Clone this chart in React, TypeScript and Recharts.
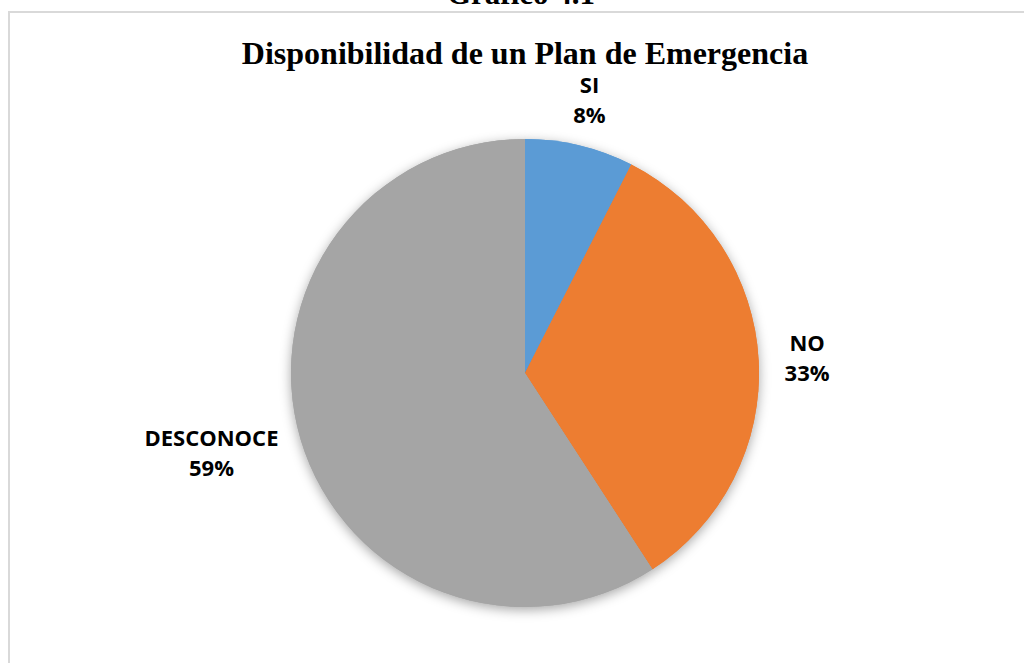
import { PieChart, Pie, Cell } from 'recharts'

// Respuestas de la encuesta
const categories = ['SI', 'NO', 'DESCONOCE']
const counts = [9, 40, 71]

const COLORS = ['#5b9bd5', '#ed7d31', '#a5a5a5']
const LABEL_FONT = '"Open Sans", "Noto Sans", sans-serif'
const LABEL_SIZE = 22
const RAD = Math.PI / 180

const data = categories.map((name, i) => ({ name, value: counts[i] }))

let ctx: CanvasRenderingContext2D | null = null
const measure = (s: string) => {
  if (!ctx) ctx = document.createElement('canvas').getContext('2d')
  if (!ctx) return s.length * LABEL_SIZE * 0.65
  ctx.font = `bold ${LABEL_SIZE}px ${LABEL_FONT}`
  return ctx.measureText(s).width
}

const renderLabel = (props: any) => {
  const { cx, cy, midAngle, outerRadius, percent, name } = props
  const pct = `${Math.round(percent * 100)}%`
  const cos = Math.cos(-midAngle * RAD)
  const sin = Math.sin(-midAngle * RAD)
  // anchor just outside the slice, then push the label box outward
  const r = outerRadius + 22
  const w = Math.max(measure(name), measure(pct)) + 8
  const h = 50
  const x = cx + r * cos + (cos * w) / 2
  const y = cy + r * sin + (sin * h) / 2
  return (
    <g>
      <text x={x} y={y - 15 + 8} textAnchor="middle" fill="#000" fontFamily={LABEL_FONT} fontSize={LABEL_SIZE} fontWeight="bold">
        {name}
      </text>
      <text x={x} y={y + 15 + 8} textAnchor="middle" fill="#000" fontFamily={LABEL_FONT} fontSize={LABEL_SIZE} fontWeight="bold">
        {pct}
      </text>
    </g>
  )
}

const serif = '"Liberation Serif", "Times New Roman", serif'

export default function App() {
  return (
    <div style={{ position: 'absolute', left: 0, top: 0, width: 1024, height: 663, overflow: 'hidden', background: '#fff' }}>
      <style>{`.pie-shadow path { filter: drop-shadow(0px 3px 6px rgba(0,0,0,0.35)); }`}</style>
      {/* marco del gráfico */}
      <div style={{ position: 'absolute', left: 8, top: 11, width: 1100, height: 700, border: '2px solid #d9d9d9', boxSizing: 'border-box' }} />
      <div style={{ position: 'absolute', left: 0, width: 1042, top: -22, textAlign: 'center', fontFamily: serif, fontWeight: 'bold', fontSize: 31, lineHeight: 1 }}>
        Gráfico 4.1
      </div>
      <div style={{ position: 'absolute', left: 0, width: 1050, top: 37, textAlign: 'center', fontFamily: serif, fontWeight: 'bold', fontSize: 32, lineHeight: 1, color: '#000' }}>
        Disponibilidad de un Plan de Emergencia
      </div>
      <div style={{ position: 'absolute', left: 0, top: 0 }}>
        <PieChart width={1024} height={663} margin={{ top: 0, right: 0, bottom: 0, left: 0 }}>
          {/* capa inferior solo para la sombra */}
          <Pie
            className="pie-shadow"
            data={data}
            dataKey="value"
            nameKey="name"
            cx={525}
            cy={373}
            outerRadius={234}
            startAngle={90}
            endAngle={-270}
            stroke="none"
            isAnimationActive={false}
          >
            {data.map((d, i) => (
              <Cell key={d.name} fill={COLORS[i]} />
            ))}
          </Pie>
          <Pie
            data={data}
            dataKey="value"
            nameKey="name"
            cx={525}
            cy={373}
            outerRadius={234}
            startAngle={90}
            endAngle={-270}
            stroke="none"
            label={renderLabel}
            labelLine={false}
            isAnimationActive={false}
          >
            {data.map((d, i) => (
              <Cell key={d.name} fill={COLORS[i]} />
            ))}
          </Pie>
        </PieChart>
      </div>
    </div>
  )
}
